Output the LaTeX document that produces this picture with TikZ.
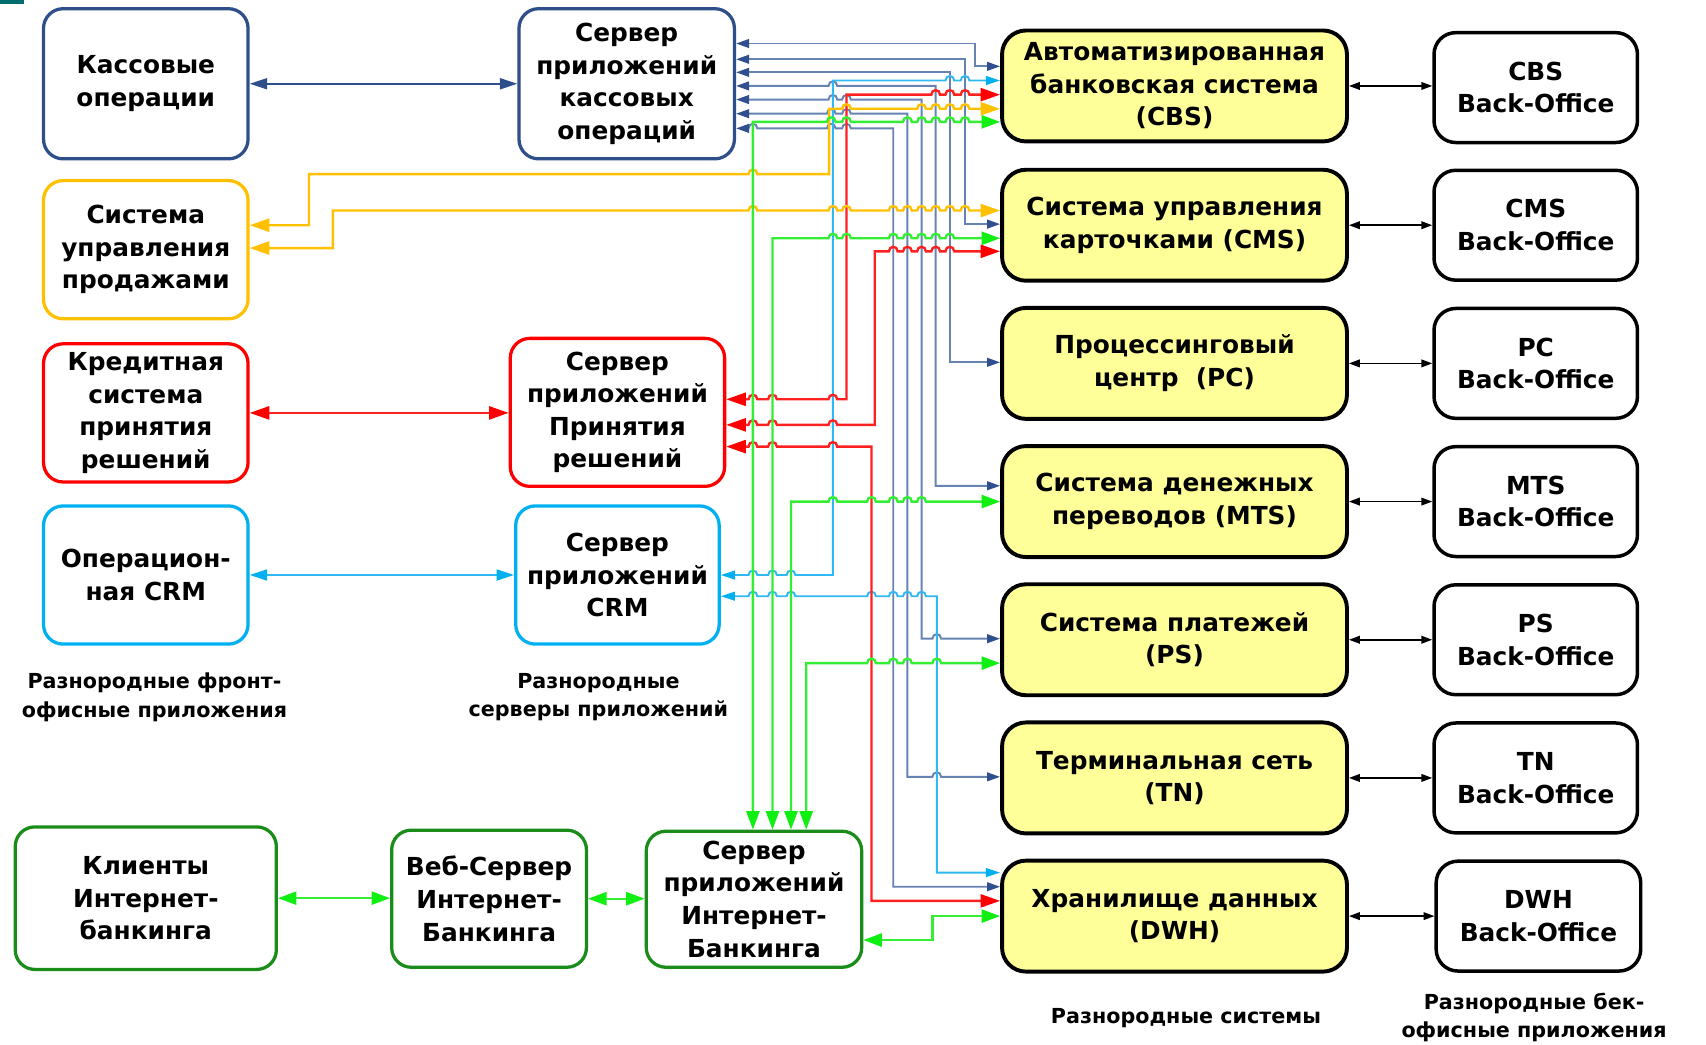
\documentclass[tikz,border=0pt]{standalone}
\usepackage{fontspec}
\setmainfont{DejaVu Sans}
\usetikzlibrary{arrows.meta}
\definecolor{kasC}{HTML}{2E4F8A}
\definecolor{blL}{HTML}{6683B2}
\definecolor{blA}{HTML}{2F4F8F}
\definecolor{orC}{HTML}{FFC000}
\definecolor{rdC}{HTML}{FF0000}
\definecolor{rdL}{HTML}{FF2020}
\definecolor{lbC}{HTML}{00B0F0}
\definecolor{lbL}{HTML}{30B8F2}
\definecolor{dgC}{HTML}{1A8C1A}
\definecolor{grL}{HTML}{33EE33}
\definecolor{grA}{HTML}{11EE11}
\definecolor{ylw}{HTML}{FFFF99}
\definecolor{tealC}{HTML}{006E6E}
\newcommand\hops[2]{foreach \h in {#2}{ -- (\h-4,#1) .. controls (\h-4,#1-5.5) and (\h+4,#1-5.5) .. (\h+4,#1)}}
\begin{document}
\begin{tikzpicture}[x=1pt,y=-1pt,
  box/.style={draw, rounded corners=18pt, line width=3pt, align=center, inner sep=0pt,
    font=\bfseries\fontsize{22.8}{30}\selectfont},
  sys/.style={box, fill=ylw, draw=black, line width=3.6pt, rounded corners=22pt,
    minimum width=317pt, minimum height=102pt},
  bo/.style={box, fill=white, draw=black, line width=3.2pt, rounded corners=20pt,
    minimum width=187pt, minimum height=101pt},
  lab/.style={align=center, inner sep=0pt, font=\bfseries\fontsize{19}{26}\selectfont},
  ab/.style={line width=1.8pt, draw=blL, arrows={Triangle[length=12pt,width=8pt,color=blA]-Triangle[length=12pt,width=8pt,color=blA]}},
  ab2/.style={line width=2pt, draw=kasC, arrows={Triangle[length=16pt,width=10pt,color=kasC]-Triangle[length=16pt,width=10pt,color=kasC]}},
  lb/.style={line width=1.8pt, draw=lbL, arrows={Triangle[length=13pt,width=8pt,color=lbC]-Triangle[length=13pt,width=8pt,color=lbC]}},
  lb2/.style={line width=2pt, draw=lbL, arrows={Triangle[length=16pt,width=10pt,color=lbC]-Triangle[length=16pt,width=10pt,color=lbC]}},
  rd/.style={line width=2.2pt, draw=rdL, arrows={Triangle[length=18pt,width=12pt,color=rdC]-Triangle[length=18pt,width=12pt,color=rdC]}},
  og/.style={line width=2.2pt, draw=orC, arrows={Triangle[length=18pt,width=12pt,color=orC]-Triangle[length=18pt,width=12pt,color=orC]}},
  gr/.style={line width=2.2pt, draw=grL, arrows={Triangle[length=17pt,width=12pt,color=grA]-Triangle[length=17pt,width=12pt,color=grA]}},
  bk/.style={line width=1.5pt, draw=black, arrows={Triangle[length=10pt,width=7pt]-Triangle[length=10pt,width=7pt]}}
]
\useasboundingbox (0,0) rectangle (1568,960);
\fill[tealC] (0,0) rectangle (22,4);

% left front-office boxes
\node[box, draw=kasC, minimum width=188pt, minimum height=138pt] (kas) at (134,77) {Кассовые\\операции};
\node[box, draw=orC, minimum width=188pt, minimum height=127pt] (sal) at (134,229.5) {Система\\управления\\продажами};
\node[box, draw=rdC, minimum width=188pt, minimum height=127pt] (kred) at (134,379.5) {Кредитная\\система\\принятия\\решений};
\node[box, draw=lbC, minimum width=188pt, minimum height=127pt] (crm) at (134,528.5) {Операцион-\\ная CRM};

% servers
\node[box, draw=kasC, minimum width=198pt, minimum height=138pt] (sK) at (576,77) {Сервер\\приложений\\кассовых\\операций};
\node[box, draw=rdC, minimum width=197pt, minimum height=136pt] (sP) at (567.5,379) {Сервер\\приложений\\Принятия\\решений};
\node[box, draw=lbC, minimum width=187pt, minimum height=127pt] (sC) at (567.5,528.5) {Сервер\\приложений\\CRM};

% internet banking
\node[box, draw=dgC, minimum width=240pt, minimum height=131pt] (kli) at (134,825.5) {Клиенты\\Интернет-\\банкинга};
\node[box, draw=dgC, minimum width=179pt, minimum height=126pt] (web) at (449.5,826) {Веб-Сервер\\Интернет-\\Банкинга};
\node[box, draw=dgC, minimum width=198pt, minimum height=125pt] (sI) at (693,826.5) {Сервер\\приложений\\Интернет-\\Банкинга};

% systems
\node[sys] (cbs) at (1079.5,79) {Автоматизированная\\банковская система\\(CBS)};
\node[sys] (cms) at (1079.5,207) {Система управления\\карточками (CMS)};
\node[sys] (pc) at (1079.5,334) {Процессинговый\\центр\ \ (PC)};
\node[sys] (mts) at (1079.5,461) {Система денежных\\переводов (MTS)};
\node[sys] (ps) at (1079.5,588) {Система платежей\\(PS)};
\node[sys] (tn) at (1079.5,715) {Терминальная сеть\\(TN)};
\node[sys] (dwh) at (1079.5,842) {Хранилище данных\\(DWH)};

% back-office
\node[bo] (cbsB) at (1411.5,80.5) {CBS\\Back-Office};
\node[bo] (cmsB) at (1411.5,207) {CMS\\Back-Office};
\node[bo] (pcB) at (1411.5,334) {PC\\Back-Office};
\node[bo] (mtsB) at (1411.5,461) {MTS\\Back-Office};
\node[bo] (psB) at (1411.5,588) {PS\\Back-Office};
\node[bo] (tnB) at (1411.5,715) {TN\\Back-Office};
\node[bo, minimum width=188pt] (dwhB) at (1414,842) {DWH\\Back-Office};

% labels
\node[lab] (l1) at (142,641) {Разнородные фронт-\\офисные приложения};
\node[lab] (l2) at (550,641) {Разнородные\\серверы приложений};
\node[lab] (l3) at (1090,936) {Разнородные системы};
\node[lab] (l4) at (1410,935) {Разнородные бек-\\офисные приложения};

% front to server connectors
\draw[ab2] (kas.east) -- (kas.east -| sK.west);
\draw[rd] (kred.east) -- (kred.east -| sP.west);
\draw[lb2] (crm.east) -- (crm.east -| sC.west);
\draw[gr] (kli.east) -- (kli.east -| web.west);
\draw[gr] (web.east) -- (web.east -| sI.west);

% systems to back-office
\foreach \s in {cbs,cms,pc,mts,ps,tn,dwh}{
  \draw[bk] (\s.east) -- (\s.east -| \s B.west);
}

% dark blue server lines
\draw[ab] (sK.east|-0,40) -- (896,40) -- (896,61) -- (cbs.west|-0,61);
\draw[ab] (sK.east|-0,54.5) -- (887,54.5) -- (887,206) -- (cms.west|-0,206);
\draw[ab] (sK.east|-0,66.5) -- (873,66.5) -- (873,333) -- (pc.west|-0,333);
\draw[ab] (sK.east|-0,79) \hops{79}{765.5} -- (860,79) -- (860,446.5) -- (mts.west|-0,446.5);
\draw[ab] (sK.east|-0,91.5) \hops{91.5}{765.5,778} -- (847,91.5) -- (847,587) \hops{587}{861} -- (ps.west|-0,587);
\draw[ab] (sK.east|-0,104.5) \hops{104.5}{764,778} -- (834,104.5) -- (834,714) \hops{714}{861} -- (tn.west|-0,714);
\draw[ab] (sK.east|-0,118) \hops{118}{692,764,778} -- (821,118) -- (821,815) -- (dwh.west|-0,815);

% light blue
\draw[lb] (sC.east|-0,528.5) \hops{528.5}{692,710,727} -- (765.5,528.5) -- (765.5,74) \hops{74}{873,887} -- (cbs.west|-0,74);
\draw[lb] (sC.east|-0,548) \hops{548}{692,710,727,801,821,834,847} -- (861,548) -- (861,802) -- (dwh.west|-0,802);

% red
\draw[rd] (sP.east|-0,367) \hops{367}{692,710,765.5} -- (778,367) -- (778,87) \hops{87}{860,873,887} -- (cbs.west|-0,87);
\draw[rd] (sP.east|-0,390.5) \hops{390.5}{692,710,765.5} -- (804,390.5) -- (804,231) \hops{231}{821,834,847,860,873} -- (cms.west|-0,231);
\draw[rd] (sP.east|-0,410.5) \hops{410.5}{692,710,765.5} -- (801,410.5) -- (801,828) -- (dwh.west|-0,828);

% orange
\draw[og] (sal.east|-0,207) -- (284,207) -- (284,160) \hops{160}{692} -- (762,160) -- (762,100) \hops{100}{778,847,860,873,887} -- (cbs.west|-0,100);
\draw[og] (sal.east|-0,228) -- (306,228) -- (306,193.5) \hops{193.5}{692,765.5,778,821,834,847,860,873,887} -- (cms.west|-0,193.5);

% green
\draw[gr] (sI.north-|692,0) -- (692,112) \hops{112}{764,778,834,847,860,873,887} -- (cbs.west|-0,112);
\draw[gr] (sI.north-|710,0) -- (710,219) \hops{219}{765.5,778,821,834,847,860,873} -- (cms.west|-0,219);
\draw[gr] (sI.north-|727,0) -- (727,461) \hops{461}{765.5,801,821,834,847} -- (mts.west|-0,461);
\draw[gr] (sI.north-|741,0) -- (741,609.5) \hops{609.5}{801,821,834,861} -- (ps.west|-0,609.5);
\draw[gr] (sI.east|-0,864) -- (857,864) -- (857,842) -- (dwh.west|-0,842);
\end{tikzpicture}
\end{document}
